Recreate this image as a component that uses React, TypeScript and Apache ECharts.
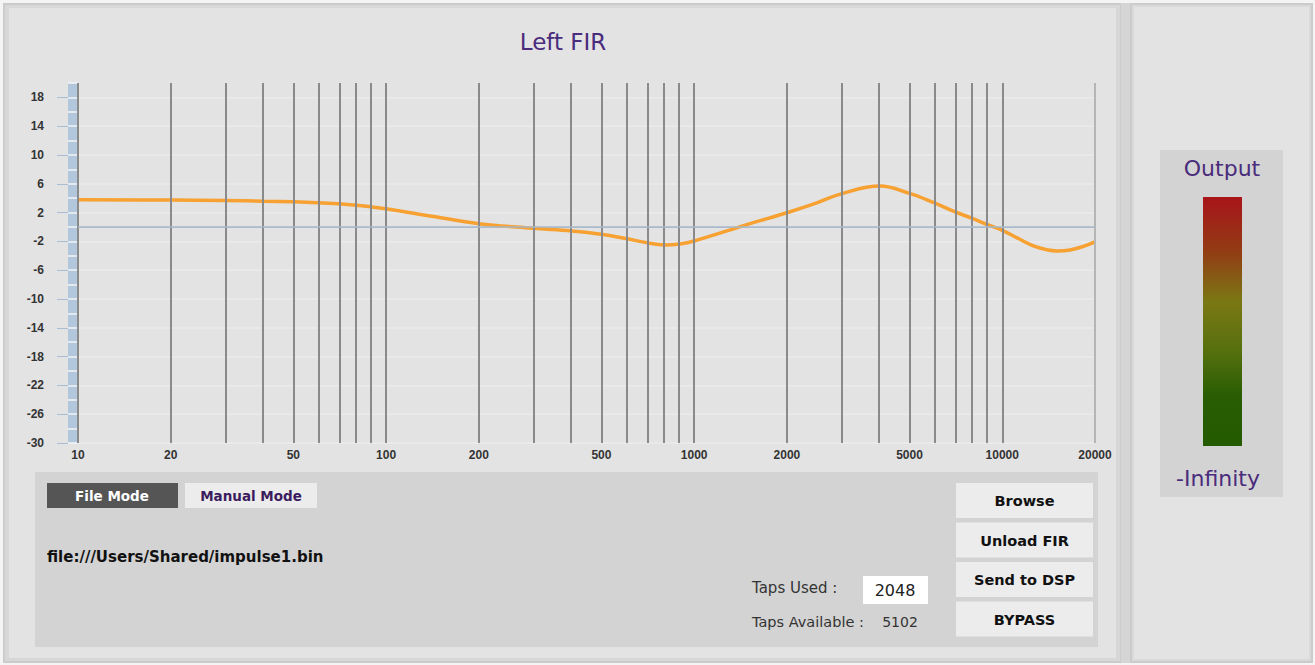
import React, { useEffect, useRef } from 'react';
import * as echarts from 'echarts';

// Frequency response of the FIR filter (Hz, dB)
const freqsHz = [10, 20, 30, 40, 50, 60, 70, 80, 90, 100, 141, 200, 300, 400, 500, 600, 700, 800, 900, 1000, 1500, 2000, 2500, 3000, 4000, 5000, 6000, 7000, 8000, 9000, 10000, 11400, 12900, 15000, 16600, 20000];
const gainDb = [3.78, 3.75, 3.68, 3.58, 3.5, 3.38, 3.22, 3.02, 2.78, 2.54, 1.5, 0.46, -0.18, -0.55, -1.0, -1.6, -2.17, -2.5, -2.35, -1.94, 0.4, 1.98, 3.35, 4.6, 5.68, 4.67, 3.37, 2.12, 1.2, 0.28, -0.46, -1.7, -2.77, -3.32, -3.2, -2.08];

// vertical frequency grid lines
const gridFreqsHz = [10, 20, 30, 40, 50, 60, 70, 80, 90, 100, 200, 300, 400, 500, 600, 700, 800, 900, 1000, 2000, 3000, 4000, 5000, 6000, 7000, 8000, 9000, 10000, 20000];
// x tick labels
const xLabelFreqs = [10, 20, 50, 100, 200, 500, 1000, 2000, 5000, 10000, 20000];
// y tick labels
const yTickValues = [-30, -26, -22, -18, -14, -10, -6, -2, 2, 6, 10, 14, 18];
const yMin = -30;
const yMax = 20;
const xMinHz = 10;
const xMaxHz = 20000;

const title = 'Left FIR';
const filePath = 'file:///Users/Shared/impulse1.bin';
const tapsUsed = '2048';
const tapsAvailable = '5102';
const buttons = ['Browse', 'Unload FIR', 'Send to DSP', 'BYPASS'];

const UI = '"DejaVu Sans", Verdana, sans-serif';
const PURPLE = '#4a2c7c';

export default function App() {
  const ref = useRef<HTMLDivElement>(null);

  useEffect(() => {
    const chart = echarts.init(ref.current as HTMLDivElement, null, { renderer: 'svg' });
    const lg = (f: number) => Math.log10(f);

    const text = (t: string, x: number, y: number, font: string, fill: string, align = 'center') => ({
      type: 'text',
      x,
      y,
      z: 5,
      silent: true,
      style: {
        text: t,
        font,
        fill,
        textAlign: align,
        textVerticalAlign: 'middle',
        align,
        verticalAlign: 'middle',
      },
    });
    const rect = (x: number, y: number, w: number, h: number, fill: any, z = -2) => ({
      type: 'rect',
      z,
      silent: true,
      shape: { x, y, width: w, height: h },
      style: { fill },
    });

    const graphics: any[] = [
      // left panel frame
      rect(3, 3, 1119, 660, '#cbcbcb', -10),
      rect(5, 5, 1115, 656, '#d7d7d7', -9),
      rect(9, 8, 1107, 650, '#e3e3e3', -8),
      // separator
      rect(1121, 3, 9, 660, '#d5d5d5', -10),
      // right panel
      rect(1130, 3, 183, 660, '#cbcbcb', -10),
      rect(1132, 5, 179, 656, '#d9d9d9', -9),
      rect(1134, 7, 175, 652, '#e3e3e3', -8),
      // title
      text(title, 563, 42, `23px ${UI}`, PURPLE),
      // control panel
      rect(35, 472, 1063, 175, '#d3d3d3', -5),
      rect(47, 483, 131, 25, '#555555', -4),
      text('File Mode', 112, 496, `bold 13.5px ${UI}`, '#ffffff'),
      rect(185, 483, 132, 25, '#ececec', -4),
      text('Manual Mode', 251, 496, `bold 13.5px ${UI}`, '#3b1c5e'),
      text(filePath, 47, 557, `bold 15px ${UI}`, '#111111', 'left'),
      text('Taps Used :', 752, 588, `15px ${UI}`, '#333333', 'left'),
      rect(863, 576, 65, 28, '#ffffff', -4),
      text(tapsUsed, 895, 590, `16px ${UI}`, '#222222'),
      text('Taps Available :', 752, 622, `14.5px ${UI}`, '#333333', 'left'),
      text(tapsAvailable, 900, 622, `14px ${UI}`, '#333333'),
      // meter
      rect(1160, 150, 123, 347, '#d3d3d3', -5),
      text('Output', 1222, 168, `22px ${UI}`, PURPLE),
      rect(
        1203,
        197,
        39,
        249,
        new echarts.graphic.LinearGradient(0, 0, 0, 1, [
          { offset: 0, color: '#a8141a' },
          { offset: 0.22, color: '#923c14' },
          { offset: 0.42, color: '#7a7814' },
          { offset: 0.62, color: '#56700e' },
          { offset: 0.8, color: '#285d03' },
          { offset: 1, color: '#245a00' },
        ]),
        -4
      ),
      text('-Infinity', 1218, 478, `22px ${UI}`, PURPLE),
    ];
    buttons.forEach((b, i) => {
      const y = 483 + i * 39.5;
      graphics.push(rect(956, y, 137, 35, '#ececec', -4));
      graphics.push(text(b, 1024.5, y + 18, `bold 14.5px ${UI}`, '#111111'));
    });

    const hiddenAxisBase = {
      type: 'value',
      min: yMin,
      max: yMax,
      position: 'left',
      axisLabel: { show: false },
      splitLine: { show: false },
    };

    const labelStyle = {
      color: '#333333',
      fontFamily: '"Liberation Sans", Arial, sans-serif',
      fontSize: 12,
      fontWeight: 'bold',
    };

    const option: any = {
      animation: false,
      backgroundColor: '#f4f4f4',
      grid: { left: 78, right: 220, top: 83, bottom: 222, outerBoundsMode: 'none', containLabel: false },
      xAxis: {
        type: 'value',
        min: lg(xMinHz),
        max: lg(xMaxHz),
        axisLine: { show: true, lineStyle: { color: '#adc1d7', width: 1 } },
        axisTick: { show: false },
        splitLine: { show: false },
        axisLabel: {
          customValues: xLabelFreqs.map(lg),
          formatter: (v: number) => String(Math.round(Math.pow(10, v))),
          ...labelStyle,
          margin: 6,
        },
      },
      yAxis: [
        {
          type: 'value',
          min: yMin,
          max: yMax,
          interval: 2,
          position: 'left',
          offset: 10,
          axisLine: { show: false },
          axisTick: { show: true, customValues: yTickValues, length: 11, lineStyle: { color: '#a9bdd3', width: 1 } },
          axisLabel: {
            customValues: yTickValues,
            formatter: (v: number) => (yTickValues.indexOf(v) >= 0 ? String(v) : ''),
            ...labelStyle,
            margin: 24,
          },
          splitLine: { show: true, lineStyle: { color: '#ebebeb', width: 1.5 } },
        },
        {
          ...hiddenAxisBase,
          offset: 5,
          axisLine: { show: true, lineStyle: { color: '#b3c7dc', width: 10, cap: 'butt' } },
          axisTick: { show: false },
        },
        {
          ...hiddenAxisBase,
          interval: 2,
          offset: 10,
          axisLine: { show: false },
          axisTick: { show: true, inside: true, length: 10, lineStyle: { color: '#f2f4f7', width: 1.5 } },
        },
      ],
      graphic: graphics,
      series: [
        {
          type: 'line',
          data: [],
          z: 1,
          silent: true,
          markLine: {
            silent: true,
            symbol: ['none', 'none'],
            label: { show: false },
            animation: false,
            data: [
              ...gridFreqsHz.map((f) => ({
                xAxis: lg(f),
                lineStyle: { color: f === xMaxHz ? '#b5b5b5' : '#8a8a8a', width: 2, type: 'solid' },
              })),
              { yAxis: 0, lineStyle: { color: '#a8b8c9', width: 1.5, type: 'solid' } },
            ],
          },
        },
        {
          type: 'line',
          z: 3,
          data: freqsHz.map((f, i) => [lg(f), gainDb[i]]),
          smooth: 0.4,
          showSymbol: false,
          symbol: 'none',
          lineStyle: { color: '#f6a131', width: 3.5 },
          silent: true,
        },
      ],
    };

    chart.setOption(option);
    return () => chart.dispose();
  }, []);

  return <div ref={ref} style={{ position: 'fixed', left: 0, top: 0, width: 1315, height: 665 }} />;
}
